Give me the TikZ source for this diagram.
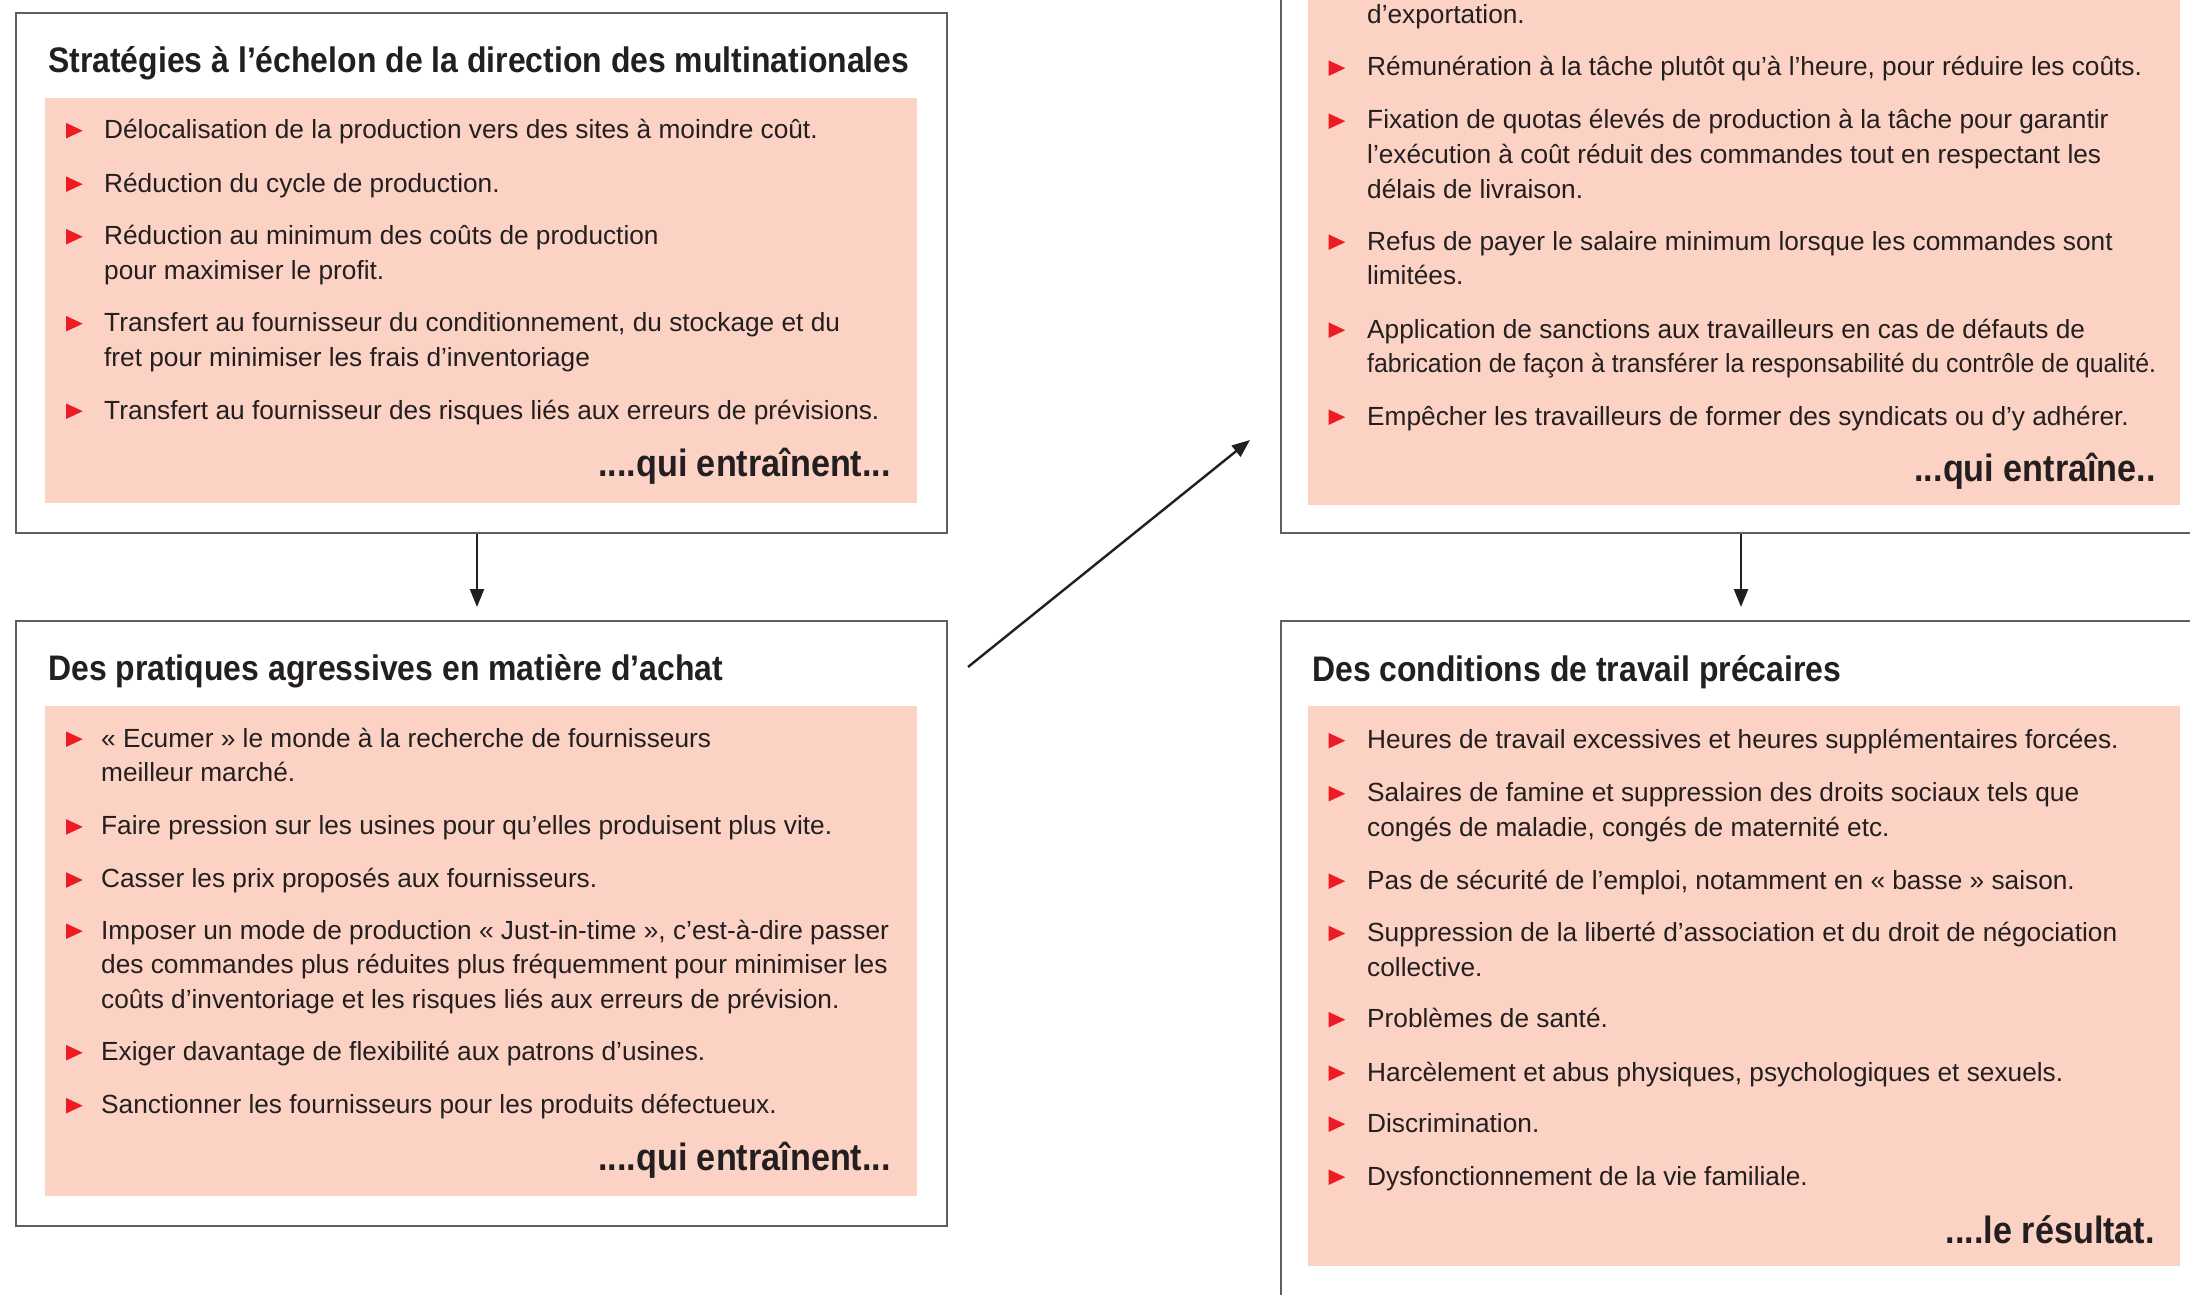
\documentclass[tikz,border=0pt]{standalone}
\usepackage{graphicx}
\usepackage{fontspec}
\setmainfont{Liberation Sans}
\newfontfamily\condfont[FakeStretch=0.9]{Liberation Sans}
\usetikzlibrary{arrows.meta,calc}
\definecolor{pinkbg}{HTML}{FCD2C4}
\definecolor{bred}{HTML}{ED1C24}
\definecolor{txt}{HTML}{231F20}
\definecolor{framegray}{HTML}{5F5F5F}
% #1 name, #2 text x, #3 bullet x, #4 baseline y, #5 text
\newcommand\itm[5]{%
  \node[itemtxt] (#1) at (#2,#4) {\parbox[t]{900pt}{\raggedright #5}};
  \fill[bred] (#3,#4-15.6) -- (#3,#4) -- (#3+16.7,#4-7.8) -- cycle;}
\begin{document}
\begin{tikzpicture}[x=1pt,y=-1pt,
  itemtxt/.style={anchor=base west,inner sep=0pt,text=txt,font=\fontsize{26.25}{34.8}\selectfont},
  titletxt/.style={anchor=base west,inner sep=0pt,text=txt,font=\condfont\bfseries\fontsize{35.5}{40}\selectfont},
  endtxt/.style={anchor=base east,inner sep=0pt,text=txt,font=\condfont\bfseries\fontsize{38}{40}\selectfont},
  boxframe/.style={draw=framegray,line width=2pt,anchor=north west,inner sep=0pt},
  arr/.style={draw=txt,line width=2.4pt,-{Triangle[length=18pt,width=14pt]}}]
\useasboundingbox (0,0) rectangle (2190,1295);
\clip (0,0) rectangle (2190,1295);
\fill[white] (0,0) rectangle (2190,1295);

% frames
\node[boxframe,minimum width=931pt,minimum height=519.5pt] (boxA) at (15,12.5) {};
\node[boxframe,minimum width=931pt,minimum height=605pt] (boxB) at (15,620) {};
\node[boxframe,minimum width=931pt,minimum height=632pt] (boxC) at (1279.5,-100) {};
\node[boxframe,minimum width=931pt,minimum height=780pt] (boxD) at (1279.5,620) {};

% pink panels
\fill[pinkbg] (45,98) rectangle (916.5,503);
\fill[pinkbg] (45,706) rectangle (916.5,1196);
\fill[pinkbg] (1308,-100) rectangle (2179.5,505);
\fill[pinkbg] (1308,706) rectangle (2179.5,1266);

% Box A
\node[titletxt] (tA) at (48,72.5) {Stratégies à l’échelon de la direction des multinationales};
\itm{a1}{104}{66}{138.5}{Délocalisation de la production vers des sites à moindre coût.}
\itm{a2}{104}{66}{192}{Réduction du cycle de production.}
\itm{a3}{104}{66}{244.5}{Réduction au minimum des coûts de production\\pour maximiser le profit.}
\itm{a4}{104}{66}{331.5}{Transfert au fournisseur du conditionnement, du stockage et du\\fret pour minimiser les frais d’inventoriage}
\itm{a5}{104}{66}{419}{Transfert au fournisseur des risques liés aux erreurs de prévisions.}
\node[endtxt] (eA) at (891,476) {....qui entraînent...};

% Box B
\node[titletxt] (tB) at (48,680) {Des pratiques agressives en matière d’achat};
\itm{b1}{101}{66}{747}{« Ecumer » le monde à la recherche de fournisseurs\\meilleur marché.}
\itm{b2}{101}{66}{834.7}{Faire pression sur les usines pour qu’elles produisent plus vite.}
\itm{b3}{101}{66}{887.8}{Casser les prix proposés aux fournisseurs.}
\itm{b4}{101}{66}{939}{Imposer un mode de production « Just-in-time », c’est-à-dire passer\\des commandes plus réduites plus fréquemment pour minimiser les\\coûts d’inventoriage et les risques liés aux erreurs de prévision.}
\itm{b5}{101}{66}{1060.5}{Exiger davantage de flexibilité aux patrons d’usines.}
\itm{b6}{101}{66}{1113.5}{Sanctionner les fournisseurs pour les produits défectueux.}
\node[endtxt] (eB) at (891,1170) {....qui entraînent...};

% Box C
\node[itemtxt] (c0) at (1367,24) {d’exportation.};
\itm{c1}{1367}{1328.5}{76}{Rémunération à la tâche plutôt qu’à l’heure, pour réduire les coûts.}
\itm{c2}{1367}{1328.5}{129}{Fixation de quotas élevés de production à la tâche pour garantir\\l’exécution à coût réduit des commandes tout en respectant les\\délais de livraison.}
\itm{c3}{1367}{1328.5}{250}{Refus de payer le salaire minimum lorsque les commandes sont\\limitées.}
\itm{c4}{1367}{1328.5}{338}{Application de sanctions aux travailleurs en cas de défauts de\\\scalebox{0.947}[1]{fabrication de façon à transférer la responsabilité du contrôle de qualité.}}
\itm{c5}{1367}{1328.5}{425}{Empêcher les travailleurs de former des syndicats ou d’y adhérer.}
\node[endtxt] (eC) at (2156,481) {...qui entraîne..};

% Box D
\node[titletxt] (tD) at (1312,681.5) {Des conditions de travail précaires};
\itm{d1}{1367}{1328.5}{748.5}{Heures de travail excessives et heures supplémentaires forcées.}
\itm{d2}{1367}{1328.5}{801.5}{Salaires de famine et suppression des droits sociaux tels que\\congés de maladie, congés de maternité etc.}
\itm{d3}{1367}{1328.5}{889}{Pas de sécurité de l’emploi, notamment en « basse » saison.}
\itm{d4}{1367}{1328.5}{941.3}{Suppression de la liberté d’association et du droit de négociation\\collective.}
\itm{d5}{1367}{1328.5}{1027.5}{Problèmes de santé.}
\itm{d6}{1367}{1328.5}{1081}{Harcèlement et abus physiques, psychologiques et sexuels.}
\itm{d7}{1367}{1328.5}{1132}{Discrimination.}
\itm{d8}{1367}{1328.5}{1185}{Dysfonctionnement de la vie familiale.}
\node[endtxt] (eD) at (2155,1243) {....le résultat.};

% connectors
\draw[arr] ([xshift=-4.5pt]boxA.south) -- ([xshift=-4.5pt,yshift=13pt]boxB.north);
\draw[arr] ([xshift=-5pt]boxC.south) -- ([xshift=-5pt,yshift=13pt]boxD.north);
\coordinate (dstart) at (968,667);
\coordinate (dend) at (1250,440);
\draw[arr] (dstart) -- (dend);
\end{tikzpicture}
\end{document}
